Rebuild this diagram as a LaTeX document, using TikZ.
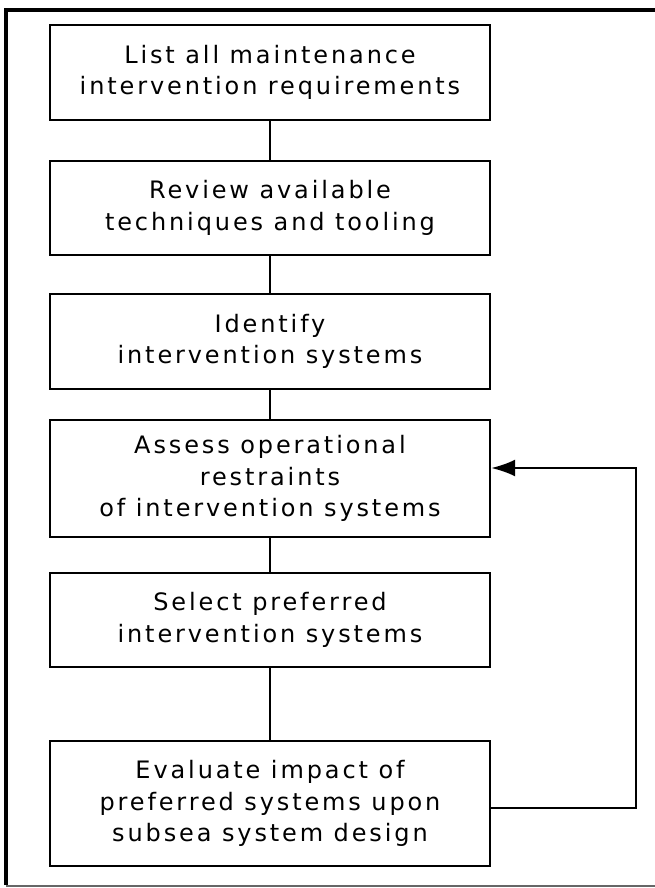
\documentclass[tikz,border=0pt]{standalone}
\usepackage{fontspec}
\setmainfont{DejaVu Sans}[LetterSpace=12]
\usetikzlibrary{arrows.meta}
\begin{document}
\begin{tikzpicture}[x=1pt,y=-1pt,
  stepbox/.style={draw,line width=2.4pt,minimum width=440pt,align=center,inner sep=0pt,
    font=\fontsize{24}{31.5}\selectfont},
  link/.style={line width=2.2pt}]
\useasboundingbox (0,0) rectangle (655,888);
\fill[white] (0,0) rectangle (655,888);
% frame
\draw[line width=3.4pt] (6,885) -- (6,10) -- (655,10);
\draw[line width=1.4pt,black!60] (6,886) -- (655,886);
% boxes
\node[stepbox,minimum height=95pt] (b1) at (270,72.5) {List all maintenance\\intervention requirements};
\node[stepbox,minimum height=94pt] (b2) at (270,208) {Review available\\techniques and tooling};
\node[stepbox,minimum height=95pt] (b3) at (270,341.5) {Identify\\intervention systems};
\node[stepbox,minimum height=117pt] (b4) at (270,478.5) {Assess operational\\restraints\\of intervention systems};
\node[stepbox,minimum height=94pt] (b5) at (270,620) {Select preferred\\intervention systems};
\node[stepbox,minimum height=125pt] (b6) at (270,803.5) {Evaluate impact of\\preferred systems upon\\subsea system design};
% connectors
\draw[link] (b1) -- (b2);
\draw[link] (b2) -- (b3);
\draw[link] (b3) -- (b4);
\draw[link] (b4) -- (b5);
\draw[link] (b5) -- (b6);
\coordinate (fb1) at (636,808);
\coordinate (fb2) at (636,468);
\draw[link,-{Latex[length=24pt,width=17pt]}] ([yshift=-4.5pt]b6.east) -- (fb1) -- (fb2) -- ([yshift=10.5pt]b4.east);
\end{tikzpicture}
\end{document}
